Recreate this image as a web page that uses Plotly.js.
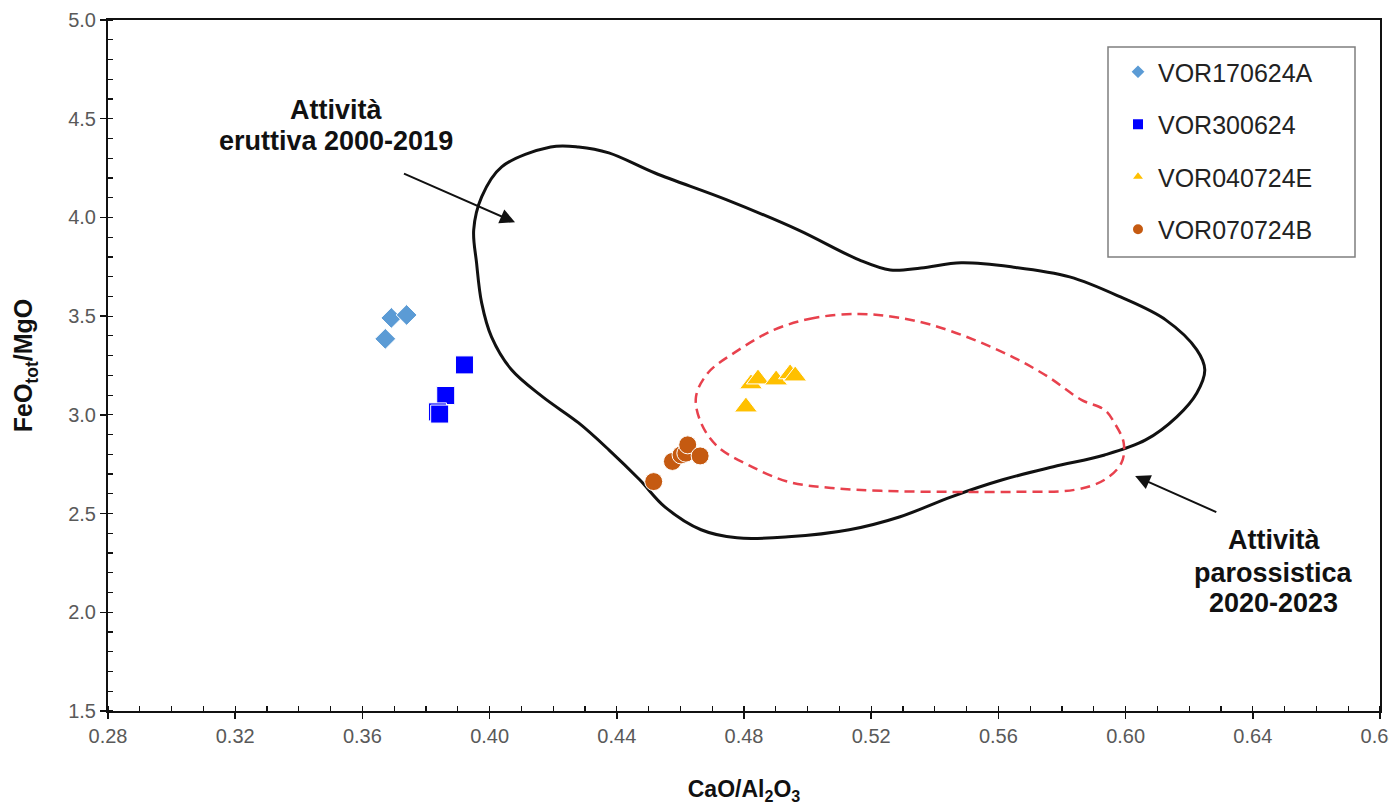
<!DOCTYPE html>
<html>
<head>
<meta charset="utf-8">
<script src="https://cdn.plot.ly/plotly-3.0.1.min.js"></script>
<style>html,body{margin:0;padding:0;background:#fff;}#chart{width:1389px;height:805px;}</style>
</head>
<body>
<div id="chart"></div>
<script>
// ---- sample data (CaO/Al2O3 vs FeOtot/MgO) ----
const seriesNames = ["VOR170624A", "VOR300624", "VOR040724E", "VOR070724B"];
const vor170624A_x = [0.3672, 0.3691, 0.3739];
const vor170624A_y = [3.385, 3.491, 3.506];
const vor300624_x = [0.3921, 0.3862, 0.3836, 0.3843];
const vor300624_y = [3.253, 3.098, 3.015, 3.004];
const vor040724E_x = [0.4806, 0.4822, 0.4844, 0.4901, 0.4945, 0.4961];
const vor040724E_y = [3.040, 3.157, 3.182, 3.177, 3.208, 3.197];
const vor070724B_x = [0.4516, 0.4575, 0.4602, 0.4617, 0.4623, 0.4662];
const vor070724B_y = [2.662, 2.764, 2.797, 2.806, 2.848, 2.792];

// ---- field outlines ----
const eruttiva_x = [0.4192,0.4038,0.3975,0.3950,0.3959,0.3975,0.4006,0.4069,0.4167,0.4280,0.4375,0.4472,0.4551,0.4665,0.4778,0.4939,0.5131,0.5291,0.5452,0.5613,0.5773,0.5934,0.6063,0.6161,0.6224,0.6249,0.6224,0.6126,0.5984,0.5824,0.5644,0.5483,0.5357,0.5260,0.5162,0.4970,0.4746,0.4520,0.4375,0.4280,0.4192];
const eruttiva_y = [4.357,4.256,4.104,3.937,3.770,3.567,3.395,3.228,3.091,2.959,2.823,2.671,2.534,2.418,2.377,2.382,2.418,2.484,2.585,2.671,2.737,2.797,2.873,2.990,3.111,3.228,3.329,3.481,3.597,3.699,3.749,3.770,3.744,3.734,3.785,3.937,4.089,4.225,4.327,4.357,4.357];
const parossistica_x = [0.5162,0.5020,0.4894,0.4769,0.4687,0.4649,0.4665,0.4718,0.4813,0.4939,0.5074,0.5231,0.5443,0.5650,0.5839,0.5934,0.5987,0.5994,0.5965,0.5934,0.5861,0.5757,0.5650,0.5524,0.5389,0.5272,0.5162];
const parossistica_y = [3.511,3.491,3.430,3.314,3.213,3.091,2.959,2.838,2.747,2.661,2.630,2.615,2.610,2.610,2.620,2.671,2.757,2.858,2.959,3.025,3.076,3.192,3.289,3.380,3.456,3.496,3.511];

// ---- labels ----
const label1Lines = ["Attività", "eruttiva 2000-2019"];
const label1X = 0.3518, label1Y = [4.544, 4.387];
const label2Lines = ["Attività", "parossistica", "2020-2023"];
const label2X = 0.6466, label2Y = [2.367, 2.200, 2.048];
const arrow1 = {head: [0.4080, 3.975], tail: [0.3726, 4.225]};
const arrow2 = {head: [0.6030, 2.690], tail: [0.6290, 2.504]};

const FONT = "Liberation Sans, Arial, sans-serif";

const traces = [
  {x: eruttiva_x, y: eruttiva_y, mode: "lines", line: {color: "#111", width: 3, shape: "spline", smoothing: 1}, showlegend: false, hoverinfo: "skip"},
  {x: parossistica_x, y: parossistica_y, mode: "lines", line: {color: "#E8414D", width: 2.5, dash: "10px,6px", shape: "spline", smoothing: 1}, showlegend: false, hoverinfo: "skip"},
  {x: vor170624A_x, y: vor170624A_y, name: seriesNames[0], legendgroup: "a", mode: "markers", marker: {symbol: "diamond", size: 16, color: "#5B9BD5", line: {color: "#fff", width: 1}}},
  {x: vor300624_x, y: vor300624_y, name: seriesNames[1], legendgroup: "b", mode: "markers", marker: {symbol: "square", size: 18, color: "#0000FF", line: {color: "#fff", width: 1}}},
  {x: vor040724E_x, y: vor040724E_y, name: seriesNames[2], legendgroup: "c", mode: "markers", marker: {symbol: "triangle-up", size: 20, color: "#FFC000", line: {color: "#fff", width: 1}}},
  {x: vor070724B_x, y: vor070724B_y, name: seriesNames[3], legendgroup: "d", mode: "markers", marker: {symbol: "circle", size: 18, color: "#C55A11", line: {color: "#fff", width: 1}}}
];

const annotations = [];
label1Lines.forEach((t, i) => annotations.push({x: label1X, y: label1Y[i], xref: "x", yref: "y", text: "<b>" + t + "</b>", showarrow: false, font: {family: FONT, size: 27, color: "#111"}, xanchor: "center", yanchor: "middle"}));
label2Lines.forEach((t, i) => annotations.push({x: label2X, y: label2Y[i], xref: "x", yref: "y", text: "<b>" + t + "</b>", showarrow: false, font: {family: FONT, size: 27, color: "#111"}, xanchor: "center", yanchor: "middle"}));
[arrow1, arrow2].forEach(a => annotations.push({x: a.head[0], y: a.head[1], xref: "x", yref: "y", ax: a.tail[0], ay: a.tail[1], axref: "x", ayref: "y", text: "", showarrow: true, arrowhead: 2, arrowsize: 1.5, arrowwidth: 2, arrowcolor: "#111"}));

const layout = {
  width: 1389, height: 805,
  margin: {l: 108, r: 9, t: 20, b: 94},
  paper_bgcolor: "#fff", plot_bgcolor: "#fff",
  font: {family: FONT, color: "#595959"},
  xaxis: {
    range: [0.28, 0.68], tick0: 0.28, dtick: 0.04, tickformat: ".2f",
    ticks: "outside", ticklen: 6, tickwidth: 1.5, tickcolor: "#111",
    minor: {dtick: 0.01, ticks: "inside", ticklen: 5, tickwidth: 1.2, tickcolor: "#111", showgrid: false},
    showline: true, linecolor: "#111", linewidth: 2, mirror: true,
    showgrid: false, zeroline: false, ticklabeloverflow: "allow",
    tickfont: {size: 20, color: "#595959", family: FONT},
    title: {text: "<b>CaO/Al<sub>2</sub>O<sub>3</sub></b>", font: {size: 23, color: "#111", family: FONT}, standoff: 35}
  },
  yaxis: {
    range: [1.5, 5.0], tick0: 1.5, dtick: 0.5, tickformat: ".1f",
    ticks: "outside", ticklen: 6, tickwidth: 1.5, tickcolor: "#111",
    minor: {dtick: 0.1, ticks: "inside", ticklen: 5, tickwidth: 1.2, tickcolor: "#111", showgrid: false},
    showline: true, linecolor: "#111", linewidth: 2, mirror: true,
    showgrid: false, zeroline: false,
    tickfont: {size: 20, color: "#595959", family: FONT},
    title: {text: "<b>FeO<sub>tot</sub>/MgO</b>", font: {size: 25, color: "#111", family: FONT}, standoff: 28}
  },
  xaxis2: {overlaying: "x", anchor: "y", side: "bottom", range: [0.28, 0.68], tick0: 0.28, dtick: 0.04, ticks: "inside", ticklen: 6, tickwidth: 1.5, tickcolor: "#111", showticklabels: false, showgrid: false, zeroline: false, showline: false},
  yaxis2: {overlaying: "y", anchor: "x", side: "left", range: [1.5, 5.0], tick0: 1.5, dtick: 0.5, ticks: "inside", ticklen: 6, tickwidth: 1.5, tickcolor: "#111", showticklabels: false, showgrid: false, zeroline: false, showline: false},
  showlegend: true,
  legend: {
    x: (1118 - 108) / 1272, xanchor: "left", y: (711 - 49) / 691, yanchor: "top",
    bgcolor: "rgba(0,0,0,0)", borderwidth: 0,
    font: {family: FONT, size: 25, color: "#222"},
    traceorder: "grouped", tracegroupgap: 17, itemsizing: "constant"
  },
  shapes: [{type: "rect", xref: "paper", yref: "paper", x0: (1108 - 108) / 1272, x1: (1355 - 108) / 1272, y0: (711 - 257) / 691, y1: (711 - 47) / 691, line: {color: "#7f7f7f", width: 1.5}, fillcolor: "rgba(0,0,0,0)"}],
  annotations: annotations
};

Plotly.newPlot("chart", traces, layout, {displayModeBar: false, staticPlot: true});
</script>
</body>
</html>
